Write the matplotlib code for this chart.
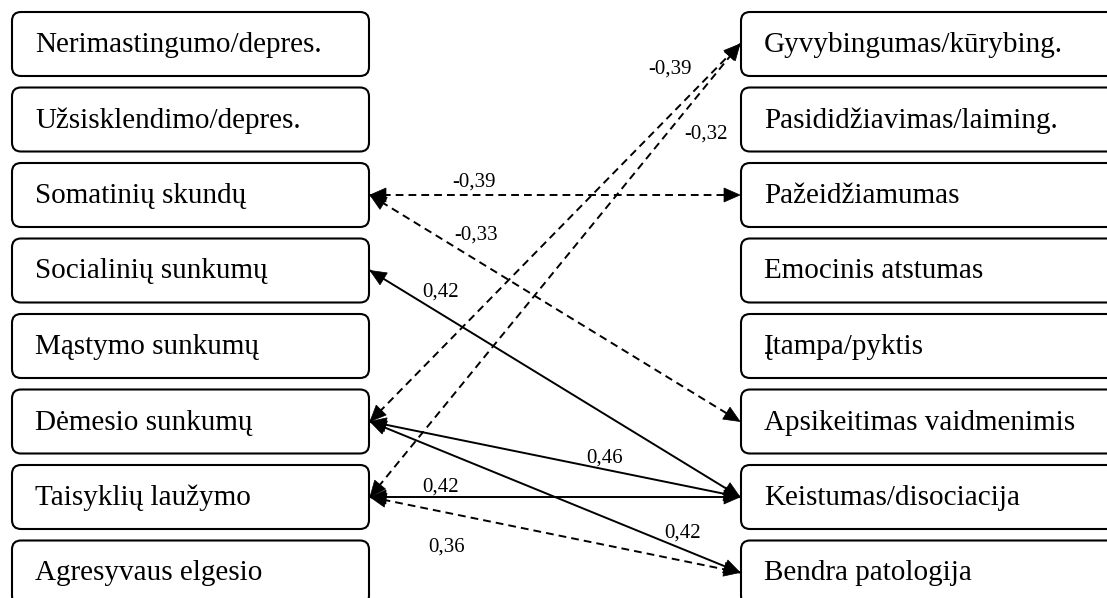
import numpy as np
import matplotlib
matplotlib.use('Agg')
import matplotlib.pyplot as plt
from matplotlib.patches import FancyBboxPatch, Polygon

# ---- data ----
left_labels = ['Nerimastingumo/depres.', 'Užsisklendimo/depres.', 'Somatinių skundų',
               'Socialinių sunkumų', 'Mąstymo sunkumų', 'Dėmesio sunkumų',
               'Taisyklių laužymo', 'Agresyvaus elgesio']
right_labels = ['Gyvybingumas/kūrybing.', 'Pasididžiavimas/laiming.', 'Pažeidžiamumas',
                'Emocinis atstumas', 'Įtampa/pyktis', 'Apsikeitimas vaidmenimis',
                'Keistumas/disociacija', 'Bendra patologija']

# links: (left index, right index, correlation, dashed?)
link_left = [2, 2, 3, 5, 6, 5, 5, 6, 6]
link_right = [2, 5, 6, 0, 0, 6, 7, 6, 7]
link_r = ['-0,39', '-0,33', '0,42', '-0,39', '-0,32', '0,46', '0,42', '0,42', '0,36']
link_dashed = [True, True, False, True, True, False, False, False, True]

# where each label sits (pixels)
label_xy = [(474, 182), (476, 235), (441, 292), (670, 69), (706, 134),
            (605, 458), (683, 533), (441, 487), (447, 547)]

# ---- layout (pixels) ----
W, H = 1107, 598
top0, pitch, bh = 12, 75.5, 64
lx, lw = 12, 357
rx, rw = 741, 420

fig = plt.figure(figsize=(W / 100, H / 100), dpi=100)
ax = fig.add_axes([0, 0, 1, 1])
ax.set_xlim(0, W)
ax.set_ylim(H, 0)
ax.axis('off')

serif = 'Liberation Serif'


def box_center(i):
    return top0 + i * pitch + bh / 2


for i, (a, b) in enumerate(zip(left_labels, right_labels)):
    y0 = top0 + i * pitch
    for x0, w, txt in [(lx, lw, a), (rx, rw, b)]:
        ax.add_patch(FancyBboxPatch((x0, y0), w, bh,
                                    boxstyle='round,pad=0,rounding_size=9',
                                    fc='white', ec='black', lw=1.5))
        ax.text(x0 + 23, y0 + bh / 2 + 1, txt, family=serif, fontsize=21,
                va='center', ha='left', color='black')


def head(tip, tail, L=16, hw=7):
    tip = np.array(tip, float)
    d = tip - np.array(tail, float)
    d /= np.hypot(*d)
    n = np.array([-d[1], d[0]])
    base = tip - d * L
    ax.add_patch(Polygon([tip, base + n * hw, base - n * hw],
                         closed=True, fc='black', ec='black', lw=0.5, zorder=4))


for li, ri, r, dash, (tx, ty) in zip(link_left, link_right, link_r, link_dashed, label_xy):
    p1 = (lx + lw + 1, box_center(li))
    p2 = (rx - 1, box_center(ri))
    ls = (0, (4, 2.6)) if dash else '-'
    ax.plot([p1[0], p2[0]], [p1[1], p2[1]], color='black', lw=1.4,
            linestyle=ls, zorder=3)
    head(p1, p2)
    head(p2, p1)
    ax.text(tx, ty, r, family=serif, fontsize=15, ha='center', va='center',
            color='black')

fig.savefig('out.png', dpi=100)
